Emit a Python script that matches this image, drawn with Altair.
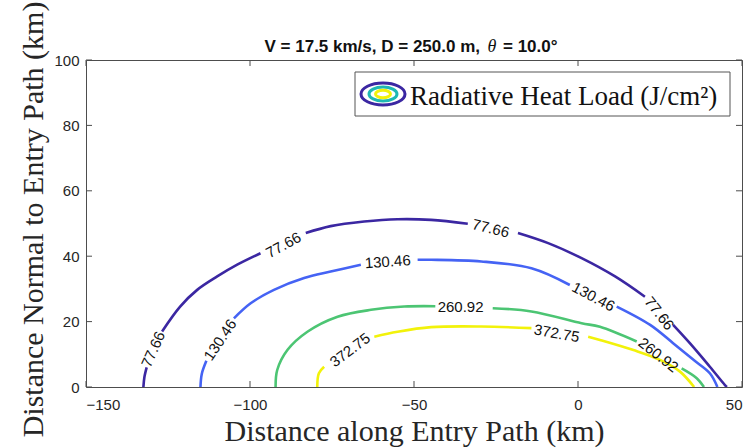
import altair as alt
import pandas as pd

# ---------------- data ----------------
levels = ["77.66", "130.46", "260.92", "372.75"]
colors = ["#3b27a2", "#4563f4", "#4cc573", "#f2f20a"]

# contour 77.66 (segments split where inline labels sit)
p_x = [-132.5, -132.2, -131.5,
       -126.8, -121.3, -116.1, -110.0, -103.9, -96.8,
       -83.0, -75.4, -65.2, -55.0, -44.8, -33.6,
       -18.3, -9.1, 1.1, 11.3, 20.4,
       29.0, 34.1, 40.2, 44.8, 45.4]
p_y = [0.0, 3.0, 6.0,
       17.0, 24.6, 29.7, 33.8, 37.4, 40.9,
       47.1, 49.2, 50.6, 51.3, 51.1, 49.9,
       47.1, 44.0, 39.4, 33.8, 27.6,
       19.0, 13.4, 6.2, 0.6, 0.0]
p_seg = [0, 0, 0,
         1, 1, 1, 1, 1, 1,
         2, 2, 2, 2, 2, 2,
         3, 3, 3, 3, 3,
         4, 4, 4, 4, 4]

# contour 130.46
b_x = [-115.1, -114.7, -113.3,
       -104.9, -99.8, -92.7, -83.5, -75.4, -66.2,
       -48.9, -44.8, -29.5, -14.2, -2.5,
       11.8, 22.0, 29.0, 35.2, 40.2, 42.5]
b_y = [0.0, 4.0, 8.0,
       21.0, 25.6, 29.7, 33.3, 35.3, 37.4,
       38.9, 38.9, 38.4, 36.3, 31.2,
       24.6, 19.0, 13.4, 8.3, 4.2, 0.0]
b_seg = [0, 0, 0,
         1, 1, 1, 1, 1, 1,
         2, 2, 2, 2, 2,
         3, 3, 3, 3, 3, 3]

# contour 260.92
g_x = [-92.2, -91.7, -88.6, -82.5, -73.3, -63.1, -53.0, -43.5,
       -26.0, -14.2, 1.1, 6.7, 17.9,
       31.6, 36.2, 38.4]
g_y = [0.0, 5.2, 11.3, 16.9, 21.5, 23.6, 24.6, 24.7,
       24.1, 23.1, 19.5, 18.4, 13.9,
       5.7, 2.7, 0.0]
g_seg = [0, 0, 0, 0, 0, 0, 0, 0,
         1, 1, 1, 1, 1,
         2, 2, 2]

# contour 372.75
y_x = [-79.5, -79.0, -77.4,
       -62.1, -55.0, -44.8, -29.5, -14.2,
       3.1, 6.7, 16.9, 25.0, 31.1, 35.4]
y_y = [0.0, 4.2, 6.2,
       15.4, 16.9, 18.3, 18.5, 18.0,
       15.4, 14.4, 11.3, 8.3, 4.7, 0.0]
y_seg = [0, 0, 0,
         1, 1, 1, 1, 1,
         2, 2, 2, 2, 2, 2]

# inline contour labels
lab_text = ["77.66", "77.66", "77.66", "77.66",
            "130.46", "130.46", "130.46",
            "260.92", "260.92",
            "372.75", "372.75"]
lab_x = [-129.5, -89.8, -26.6, 24.8,
         -109.1, -58.0, 4.7,
         -35.8, 24.5,
         -69.5, -6.5]
lab_y = [11.5, 43.4, 48.5, 22.5,
         14.4, 38.3, 27.6,
         24.4, 9.8,
         11.3, 16.4]
lab_angle = [294, 331, 14, 52,
             304, 356, 28,
             0, 38,
             323, 10]

x_ticks = [-150, -100, -50, 0, 50]
y_ticks = [0, 20, 40, 60, 80, 100]

title_left = "V = 17.5 km/s, D = 250.0 m,"
title_theta = "\u03b8"
title_right = "= 10.0\u00b0"
x_title = "Distance along Entry Path (km)"
y_title = "Distance Normal to Entry Path (km)"
legend_label = "Radiative Heat Load (J/cm\u00b2)"

# ---------------- tables ----------------
rows = []
for lev, xs_, ys_, segs in [(levels[0], p_x, p_y, p_seg), (levels[1], b_x, b_y, b_seg),
                            (levels[2], g_x, g_y, g_seg), (levels[3], y_x, y_y, y_seg)]:
    for i, (a, b, s) in enumerate(zip(xs_, ys_, segs)):
        rows.append({"x": a, "y": b, "level": lev, "seg": f"{lev}-{s}", "i": i})
lines_df = pd.DataFrame(rows)
labels_df = pd.DataFrame({"x": lab_x, "y": lab_y, "t": lab_text, "a": lab_angle})

W, H = 656, 327
FONT = "Liberation Sans"
SERIF = "Liberation Serif"
AX = "#4d4d4d"

xs = alt.Scale(domain=[-150, 50], nice=False, zero=False)
ys = alt.Scale(domain=[0, 100], nice=False, zero=False)

x_axis = alt.Axis(values=x_ticks, ticks=False, tickSize=0, domain=False, grid=False,
                  labelFont=FONT, labelFontSize=15, labelColor="#262626", labelPadding=10,
                  title=x_title, titleFont=SERIF, titleFontSize=30, titleFontWeight="normal",
                  titleColor="#262626", titleX=328, titleY=53, titleBaseline="alphabetic",
                  titleAlign="center")
y_axis = alt.Axis(values=y_ticks, ticks=False, tickSize=0, domain=False, grid=False,
                  labelFont=FONT, labelFontSize=15, labelColor="#262626", labelPadding=7,
                  title=y_title, titleFont=SERIF, titleFontSize=30, titleFontWeight="normal",
                  titleColor="#262626", titleX=-44, titleY=159, titleAngle=270,
                  titleBaseline="alphabetic", titleAlign="center")

base = alt.Chart(lines_df)
contours = base.mark_line(strokeWidth=2.6, clip=True, interpolate="catmull-rom").encode(
    x=alt.X("x:Q", scale=xs, axis=x_axis),
    y=alt.Y("y:Q", scale=ys, axis=y_axis),
    color=alt.Color("level:N", scale=alt.Scale(domain=levels, range=colors), legend=None),
    detail="seg:N",
    order="i:Q",
)

labels = alt.Chart(labels_df).mark_text(font=FONT, fontSize=15, color="#111111",
                                        align="center", baseline="middle").encode(
    x=alt.X("x:Q", scale=xs), y=alt.Y("y:Q", scale=ys), text="t:N", angle=alt.Angle("a:Q", scale=None)
)

xt_df = pd.DataFrame({"t": x_ticks})
yt_df = pd.DataFrame({"t": y_ticks})
tick_bottom = alt.Chart(xt_df).mark_rule(color=AX, strokeWidth=1).encode(
    x=alt.X("t:Q", scale=xs), y=alt.value(H), y2=alt.value(H - 6))
tick_top = alt.Chart(xt_df).mark_rule(color=AX, strokeWidth=1).encode(
    x=alt.X("t:Q", scale=xs), y=alt.value(0), y2=alt.value(6))
tick_left = alt.Chart(yt_df).mark_rule(color=AX, strokeWidth=1).encode(
    y=alt.Y("t:Q", scale=ys), x=alt.value(0), x2=alt.value(6))
tick_right = alt.Chart(yt_df).mark_rule(color=AX, strokeWidth=1).encode(
    y=alt.Y("t:Q", scale=ys), x=alt.value(W), x2=alt.value(W - 6))

one = pd.DataFrame({"k": [0]})
t1 = alt.Chart(one).mark_text(font=FONT, fontSize=17, fontWeight="bold", color="#111111",
                              align="right", baseline="alphabetic").encode(
    x=alt.value(394), y=alt.value(-8), text=alt.value(title_left))
t2 = alt.Chart(one).mark_text(font=SERIF, fontSize=18, fontStyle="italic", color="#111111",
                              align="center", baseline="alphabetic").encode(
    x=alt.value(406), y=alt.value(-8), text=alt.value(title_theta))
t3 = alt.Chart(one).mark_text(font=FONT, fontSize=17, fontWeight="bold", color="#111111",
                              align="left", baseline="alphabetic").encode(
    x=alt.value(417), y=alt.value(-8), text=alt.value(title_right))

leg_box = alt.Chart(one).mark_rect(fill="white", stroke="#555555", strokeWidth=1).encode(
    x=alt.value(269), x2=alt.value(644), y=alt.value(12), y2=alt.value(56))
ELL = "M -1 0 A 1 0.5 0 1 0 1 0 A 1 0.5 0 1 0 -1 0 Z"
ell_df = pd.DataFrame({"c": ["#3b27a2", "#1fb8b3", "#f2f20a"], "s": [1936, 784, 225]})
leg_ell = alt.Chart(ell_df).mark_point(shape=ELL, filled=False, strokeWidth=3, opacity=1).encode(
    x=alt.value(297), y=alt.value(34),
    size=alt.Size("s:Q", scale=None, legend=None),
    color=alt.Color("c:N", scale=None, legend=None))
leg_txt = alt.Chart(one).mark_text(font=SERIF, fontSize=27, color="#111111",
                                   align="left", baseline="alphabetic").encode(
    x=alt.value(324), y=alt.value(45), text=alt.value(legend_label))

chart = alt.layer(
    contours, labels, tick_bottom, tick_top, tick_left, tick_right,
    t1, t2, t3, leg_box, leg_ell, leg_txt
).properties(
    width=W, height=H,
    autosize=alt.AutoSizeParams(type="none"),
    padding={"left": 86, "top": 60, "right": 10, "bottom": 61},
    background="white",
).configure_view(stroke=AX, strokeWidth=1)

chart.save("out.html", embed_options={"renderer": "svg", "actions": False})
